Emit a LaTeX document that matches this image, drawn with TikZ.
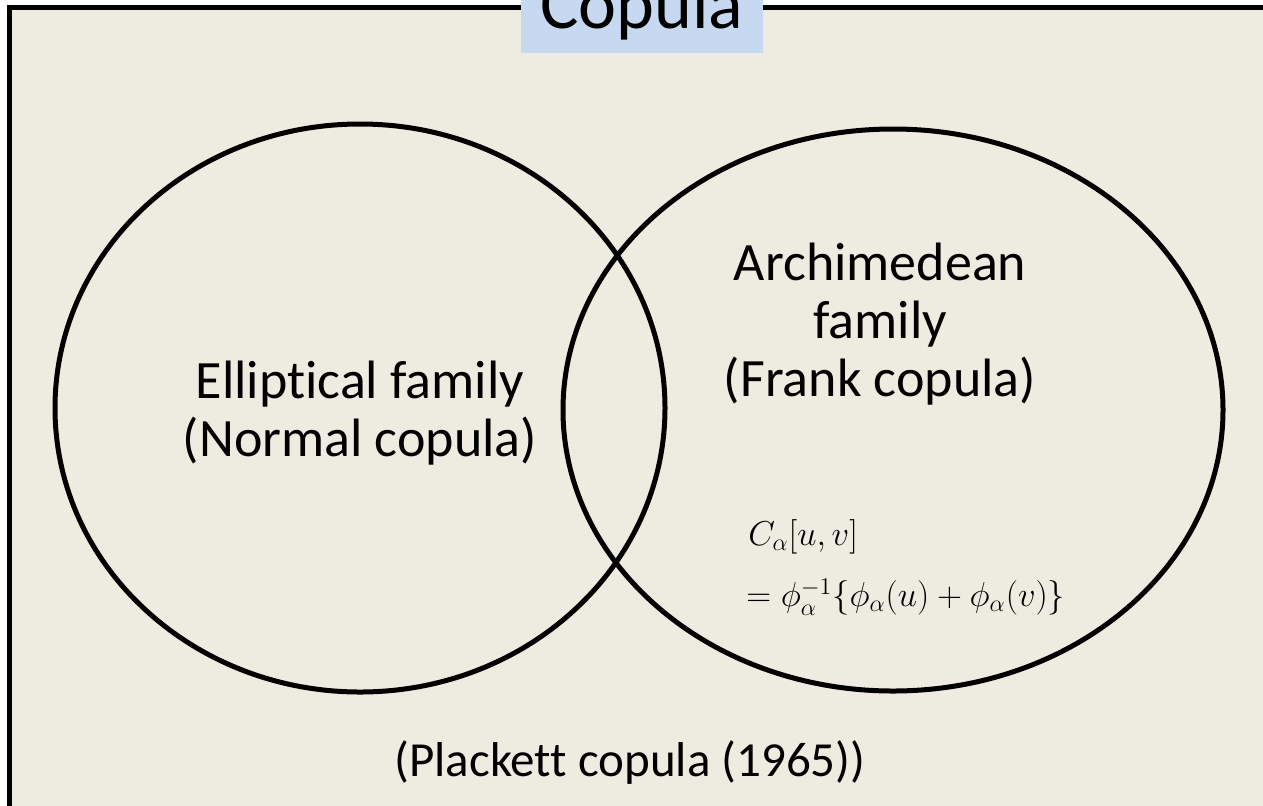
\documentclass[tikz,border=0pt]{standalone}
\usepackage{fontspec}
\setmainfont{Carlito}[Ligatures=CommonOff]
\definecolor{bgtan}{HTML}{EEECE1}
\definecolor{titleblue}{HTML}{C6D9F1}
\tikzset{
  frame/.style={line width=2.5pt, draw=black, fill=bgtan},
  setline/.style={line width=2.5pt, draw=black},
  label/.style={align=center, inner sep=0pt, font=\fontsize{27pt}{29pt}\selectfont},
  formula/.style={anchor=west, inner sep=0pt, font=\fontsize{18.5pt}{20pt}\selectfont},
}
\begin{document}
\begin{tikzpicture}[x=0.5pt,y=-0.5pt]
\useasboundingbox (0,0) rectangle (1263,805);
\clip (0,0) rectangle (1263,805);
\fill[white] (0,0) rectangle (1263,805);
\draw[frame] (9.5,7.5) rectangle (1320,860);
\node[fill=titleblue, font=\fontsize{36pt}{40pt}\selectfont, text height=30pt, text depth=12.5pt,
      minimum width=121pt, inner sep=0pt, anchor=base] (title) at (642,28) {Copula};
\draw[setline] (360,408) ellipse [x radius=152.5pt, y radius=142pt];
\draw[setline] (893,410) ellipse [x radius=165pt, y radius=140.5pt];
\node[label] (ell) at (360,413) {Elliptical family\\(Normal copula)};
\node[label] (arch) at (880,324) {Archimedean\\family\\(Frank copula)};
\node[formula] (f1) at (748,537) {$C_\alpha[u,v]$};
\node[formula] (f2) at (746,597) {$=\phi_\alpha^{-1}\{\phi_\alpha(u)+\phi_\alpha(v)\}$};
\node[label, font=\fontsize{24.5pt}{28pt}\selectfont] (plack) at (630,763) {(Plackett copula (1965))};
\end{tikzpicture}
\end{document}
